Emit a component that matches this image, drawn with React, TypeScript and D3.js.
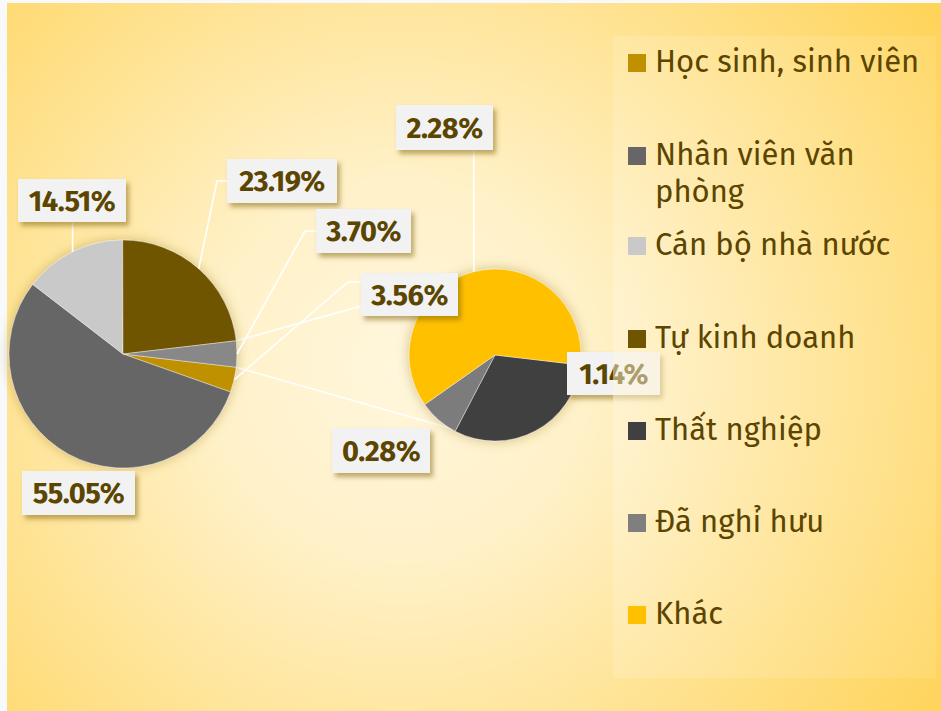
import React from "react";
import * as d3 from "d3";

// ---------- data ----------
const mainCategories = ["Học sinh, sinh viên", "Nhân viên văn phòng", "Cán bộ nhà nước", "Tự kinh doanh"];
const mainValues = [3.56, 55.05, 14.51, 23.19];
const secondaryCategories = ["Thất nghiệp", "Đã nghỉ hưu", "Khác"];
const secondaryValues = [1.14, 0.28, 2.28];
const legendCategories = [...mainCategories, ...secondaryCategories];
const legendLines: string[][] = [
  ["Học sinh, sinh viên"],
  ["Nhân viên văn", "phòng"],
  ["Cán bộ nhà nước"],
  ["Tự kinh doanh"],
  ["Thất nghiệp"],
  ["Đã nghỉ hưu"],
  ["Khác"],
];

// ---------- styles / layout ----------
const mainColors = ["#bf9000", "#666666", "#c9c9c9", "#705500", "#888888"];
const secondaryColors = ["#3f3f3f", "#7b7b7b", "#ffc000"];
const legendColors = ["#bf9000", "#666666", "#c9c9c9", "#705500", "#404040", "#7f7f7f", "#ffc000"];
const textColor = "#5b4500";
const FONT = "'Fira Sans', 'Noto Sans', 'Open Sans', sans-serif";

const W = 941;
const H = 711;
const main = { cx: 123, cy: 354, r: 114 };
const sec = { cx: 495, cy: 355, r: 86 };

type Leader = { ax: number; ay: number; ex?: number; vertical?: boolean };
type Box = { x: number; y: number; w: number; h: number; leader?: Leader };

const mainLabelLayout: Box[] = [
  { x: 361, y: 273, w: 97, h: 43, leader: { ax: 361, ay: 282, ex: 348 } },
  { x: 22, y: 471, w: 113, h: 44 },
  { x: 18, y: 179, w: 108, h: 43, leader: { ax: 73, ay: 222, vertical: true } },
  { x: 227, y: 159, w: 110, h: 44, leader: { ax: 227, ay: 181, ex: 217 } },
  { x: 316, y: 209, w: 95, h: 44, leader: { ax: 316, ay: 231, ex: 305 } },
];
const secondaryLabelLayout: Box[] = [
  { x: 567, y: 352, w: 93, h: 43 },
  { x: 332, y: 428, w: 98, h: 45 },
  { x: 396, y: 105, w: 97, h: 45, leader: { ax: 475, ay: 150, vertical: true } },
];
const legendTops = [54, 147, 237, 330, 422, 514, 606];

function pointAt(angle: number, r: number, cx: number, cy: number): [number, number] {
  return [cx + Math.sin(angle) * r, cy - Math.cos(angle) * r];
}

export default function App() {
  const otherValue = d3.sum(secondaryValues);
  const mainAll = [...mainValues, otherValue];
  const total = d3.sum(mainAll);
  const otherFrac = otherValue / total;
  const start = Math.PI / 2 + otherFrac * Math.PI;

  const pieMain = d3
    .pie<number>()
    .sort(null)
    .value((d) => d)
    .startAngle(start)
    .endAngle(start + 2 * Math.PI);
  const pieSec = d3
    .pie<number>()
    .sort(null)
    .value((d) => d)
    .startAngle(start)
    .endAngle(start + 2 * Math.PI);

  const mainArcs = pieMain(mainAll);
  const secArcs = pieSec(secondaryValues);
  const arcMain = d3.arc<d3.PieArcDatum<number>>().innerRadius(0).outerRadius(main.r);
  const arcSec = d3.arc<d3.PieArcDatum<number>>().innerRadius(0).outerRadius(sec.r);

  const otherArc = mainArcs[mainArcs.length - 1];
  const topFrom = pointAt(otherArc.startAngle, main.r, main.cx, main.cy);
  const botFrom = pointAt(otherArc.endAngle, main.r, main.cx, main.cy);
  const topTo: [number, number] = [sec.cx, sec.cy - sec.r];
  const botTo: [number, number] = [sec.cx, sec.cy + sec.r];

  const line = d3.line();

  const labels: { text: string; box: Box; anchor: [number, number] }[] = [];
  mainArcs.forEach((a, i) => {
    const mid = (a.startAngle + a.endAngle) / 2;
    labels.push({
      text: a.value.toFixed(2) + "%",
      box: mainLabelLayout[i],
      anchor: pointAt(mid, main.r, main.cx, main.cy),
    });
  });
  secArcs.forEach((a, i) => {
    const mid = (a.startAngle + a.endAngle) / 2;
    labels.push({
      text: a.value.toFixed(2) + "%",
      box: secondaryLabelLayout[i],
      anchor: pointAt(mid, sec.r, sec.cx, sec.cy),
    });
  });

  const leaderPath = (l: Leader, anchor: [number, number]) => {
    if (l.vertical) {
      return line([
        [anchor[0], l.ay],
        anchor,
      ]);
    }
    const pts: [number, number][] = [[l.ax, l.ay]];
    if (l.ex !== undefined) pts.push([l.ex, l.ay]);
    pts.push(anchor);
    return line(pts);
  };

  return (
    <svg
      width={W}
      height={H}
      style={{ position: "absolute", left: 0, top: 0, display: "block" }}
      fontFamily={FONT}
    >
      <defs>
        <radialGradient id="bg" gradientUnits="userSpaceOnUse" cx={400} cy={370} r={640}>
          <stop offset="0" stopColor="#fff6dc" />
          <stop offset="0.3" stopColor="#fff1c8" />
          <stop offset="1" stopColor="#ffd45a" />
        </radialGradient>
        <radialGradient id="legbg" gradientUnits="userSpaceOnUse" cx={400} cy={370} r={640}>
          <stop offset="0" stopColor="#fffaea" />
          <stop offset="0.35" stopColor="#fff6dc" />
          <stop offset="1" stopColor="#ffdc78" />
        </radialGradient>
        <filter id="glow" x="-30%" y="-30%" width="160%" height="160%">
          <feDropShadow dx="0" dy="0" stdDeviation="6" floodColor="#9a7a20" floodOpacity="0.45" />
        </filter>
        <filter id="boxshadow" x="-20%" y="-30%" width="150%" height="170%">
          <feDropShadow dx="3" dy="4" stdDeviation="2.5" floodColor="#7a5c00" floodOpacity="0.5" />
        </filter>
      </defs>

      <rect x={0} y={0} width={W} height={H} fill="#f8f9fb" />
      <rect x={7} y={3} width={W - 7} height={H - 3} fill="url(#bg)" />

      {/* connector lines between pies */}
      <g stroke="#ffffff" strokeWidth={1.6} fill="none">
        <path d={line([topFrom, topTo]) || ""} />
        <path d={line([botFrom, botTo]) || ""} />
      </g>

      {/* main pie */}
      <g transform={`translate(${main.cx},${main.cy})`} filter="url(#glow)">
        {mainArcs.map((a, i) => (
          <path key={i} d={arcMain(a) || ""} fill={mainColors[i]} stroke="#ffffff" strokeOpacity={0.5} strokeWidth={0.8} />
        ))}
      </g>

      {/* secondary pie */}
      <g transform={`translate(${sec.cx},${sec.cy})`} filter="url(#glow)">
        {secArcs.map((a, i) => (
          <path key={i} d={arcSec(a) || ""} fill={secondaryColors[i]} stroke="#ffffff" strokeOpacity={0.5} strokeWidth={0.8} />
        ))}
      </g>

      {/* leader lines */}
      <g stroke="#ffffff" strokeWidth={1.6} fill="none">
        {labels.map((l, i) =>
          l.box.leader ? <path key={i} d={leaderPath(l.box.leader, l.anchor) || ""} /> : null
        )}
      </g>

      {/* data labels */}
      {labels.map((l, i) => (
        <g key={i}>
          <rect x={l.box.x} y={l.box.y} width={l.box.w} height={l.box.h} fill="#f2f2f2" filter="url(#boxshadow)" />
          <text
            x={l.box.x + l.box.w / 2}
            y={l.box.y + l.box.h / 2 + 10}
            textAnchor="middle"
            fontSize={29}
            fontWeight={700}
            fill={textColor}
            letterSpacing={-0.5}
          >
            {l.text}
          </text>
        </g>
      ))}

      {/* legend */}
      <rect x={613} y={36} width={323} height={642} fill="url(#legbg)" opacity={0.5} />
      {legendCategories.map((c, i) => (
        <g key={c}>
          <rect x={628} y={legendTops[i]} width={18} height={18} fill={legendColors[i]} />
          <text x={655} y={legendTops[i] + 18} fontSize={31} fill={textColor}>
            {legendLines[i].map((ln, j) => (
              <tspan key={j} x={655} dy={j === 0 ? 0 : 37}>
                {ln}
              </tspan>
            ))}
          </text>
        </g>
      ))}
    </svg>
  );
}
